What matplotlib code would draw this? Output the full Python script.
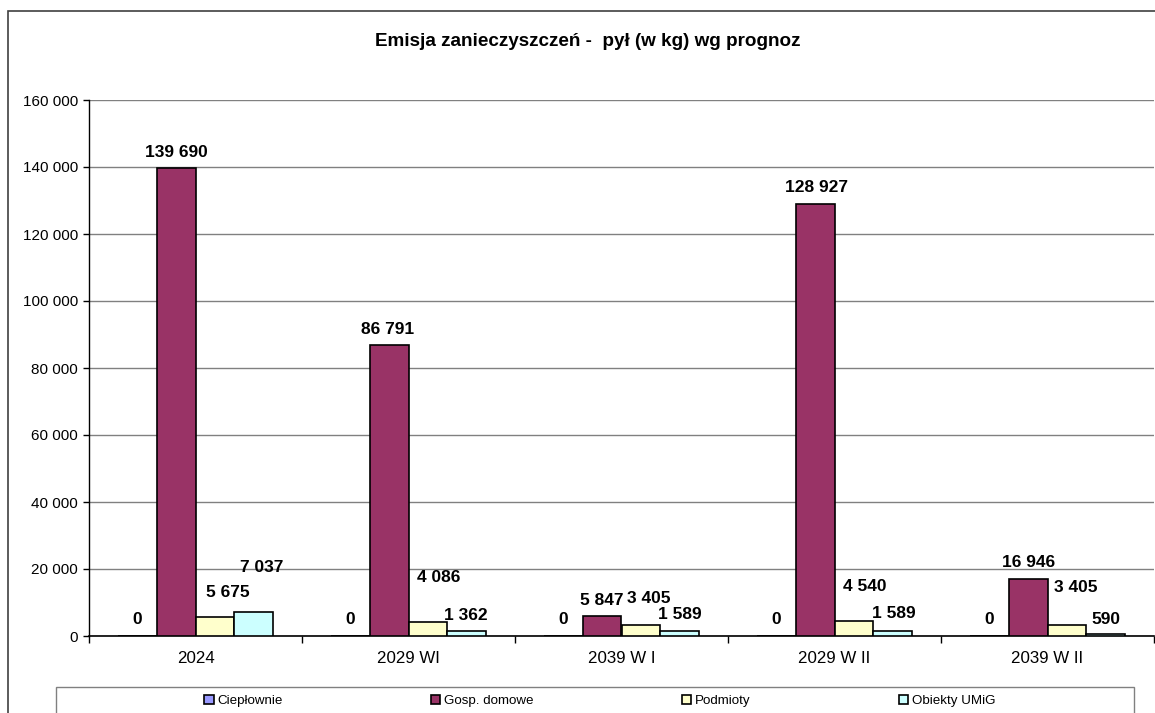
import matplotlib.pyplot as plt
import numpy as np
from matplotlib.patches import Rectangle

categories = ["2024", "2029 WI", "2039 W I", "2029 W II", "2039 W II"]
series = ["Ciepłownie", "Gosp. domowe", "Podmioty", "Obiekty UMiG"]
cieplownie = [0, 0, 0, 0, 0]
gosp_domowe = [139690, 86791, 5847, 128927, 16946]
podmioty = [5675, 4086, 3405, 4540, 3405]
obiekty = [7037, 1362, 1589, 1589, 590]
colors = ["#9999FF", "#993366", "#FFFFCC", "#CCFFFF"]

# label placement (pixels above bar top / horizontal shift), as Excel placed them
label_dy = [[16, 16, 16, 16, 16],
            [16, 16, 16, 17, 17],
            [24, 45, 26, 34, 37],
            [45, 16, 16, 17, 15]]
label_dx = [[0, 0, 0, 0, 0],
            [0, -1, 0, 1, 1],
            [13, 11, 8, 11, 9],
            [8, -1, 0, 1, 0]]

plt.rcParams['font.family'] = ['Liberation Sans', 'DejaVu Sans']

fig = plt.figure(figsize=(11.55, 7.13), dpi=100)
W, H = 1155, 713
ax = fig.add_axes([89 / W, 1 - 636 / H, (1154 - 89) / W, (636 - 100) / H])

# outer chart frame and legend frame (both cut off by the picture edge)
fig.patches.append(Rectangle((8 / W, -0.1), 1.2, 1 - 11 / H + 0.1, transform=fig.transFigure,
                             fill=False, edgecolor="#404040", linewidth=1.2))
fig.patches.append(Rectangle((56 / W, -0.1), (1134 - 56) / W, 1 - 687 / H + 0.1,
                             transform=fig.transFigure, fill=False, edgecolor="#808080", linewidth=1))

x = np.arange(len(categories))
width = 0.183
data = [cieplownie, gosp_domowe, podmioty, obiekty]
for i, (name, vals) in enumerate(zip(series, data)):
    pos = x + (i - 1.5) * width
    ax.bar(pos, vals, width, color=colors[i], edgecolor="black", linewidth=1.2, label=name, zorder=3)
    for j, v in enumerate(vals):
        ax.annotate(f"{v:,}".replace(",", " "), (pos[j], v), xytext=(label_dx[i][j], label_dy[i][j]),
                    textcoords="offset pixels", ha="center", va="center",
                    fontsize=12.5, fontweight="bold", zorder=4)

ax.set_xlim(-0.5, len(categories) - 0.5)
ax.set_ylim(0, 160000)
ax.set_yticks(np.arange(0, 160001, 20000))
ax.yaxis.set_major_formatter(plt.FuncFormatter(lambda v, p: f"{int(v):,}".replace(",", " ")))
ax.set_xticks(np.arange(-0.5, len(categories), 1))
ax.set_xticklabels([])
ax.set_xticks(x, minor=True)
ax.set_xticklabels(categories, minor=True)
ax.tick_params(axis="x", which="minor", length=0, pad=11, labelsize=12.2)
ax.tick_params(axis="x", which="major", length=5, width=1)
ax.tick_params(axis="y", length=4, width=1, labelsize=11, pad=4)
ax.grid(axis="y", color="#808080", linewidth=1, zorder=0)
ax.set_axisbelow(True)
for s in ["top", "right"]:
    ax.spines[s].set_visible(False)
ax.spines["left"].set_linewidth(1)
ax.spines["bottom"].set_linewidth(1.2)

fig.text(588 / W, 1 - 42 / H, "Emisja zanieczyszczeń -  pył (w kg) wg prognoz",
         ha="center", va="center", fontsize=13.6, fontweight="bold")

handles, labels = ax.get_legend_handles_labels()
fig.legend(handles, labels, loc="center", bbox_to_anchor=(600 / W, 1 - 701 / H), ncol=4,
           frameon=False, fontsize=9.6, handlelength=0.7, handleheight=0.7,
           handletextpad=0.3, columnspacing=11.1, borderaxespad=0, borderpad=0)

fig.savefig("out.png", dpi=100)
